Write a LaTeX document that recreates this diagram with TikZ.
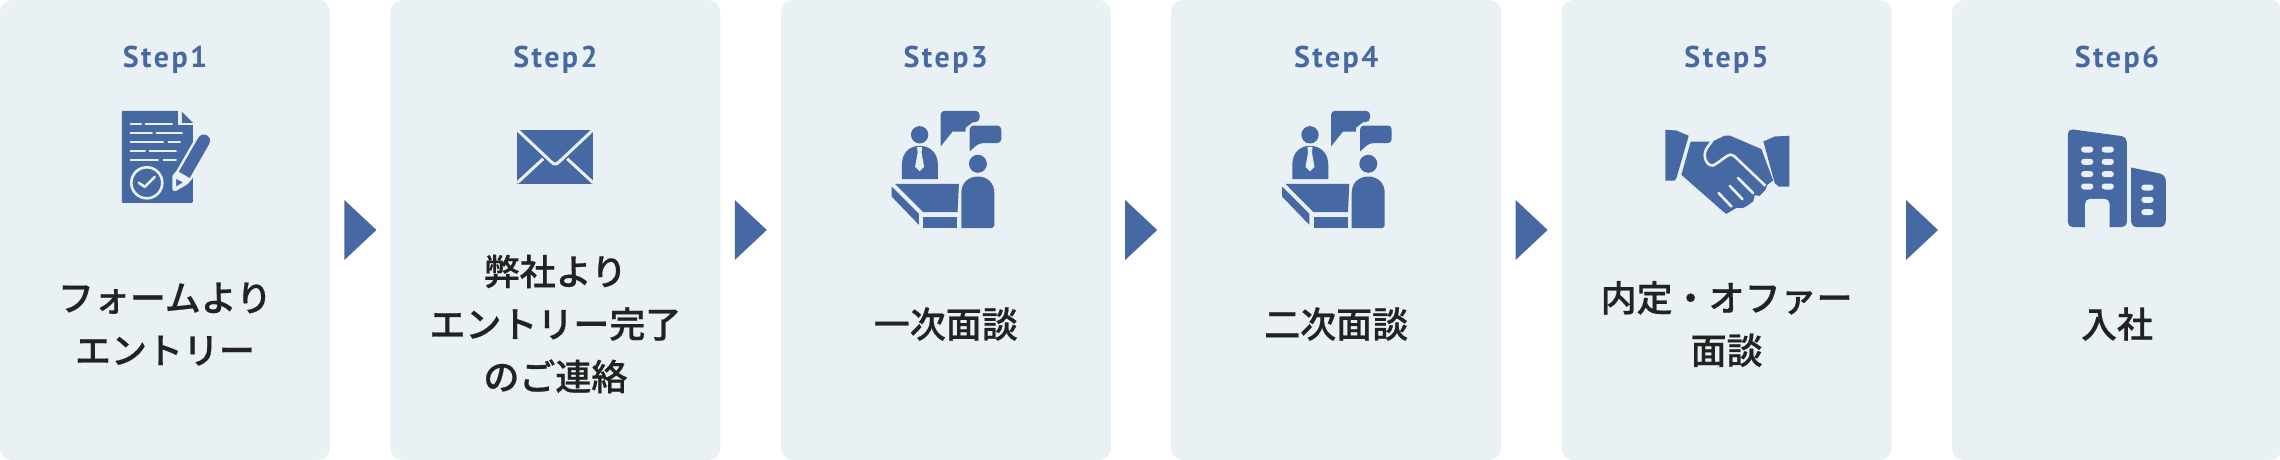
\documentclass[tikz,border=0pt]{standalone}
\usepackage{fontspec}
\usetikzlibrary{positioning,shapes.geometric}
\setmainfont[FakeBold=0.6]{Noto Sans CJK JP Medium}
\newfontfamily\stepfont[LetterSpace=8]{PT Sans}
\definecolor{cardbg}{HTML}{E9F1F4}
\definecolor{stepblue}{HTML}{4669A3}
\definecolor{inkdark}{HTML}{222222}

\begin{document}
\begin{tikzpicture}[x=1pt, y=-1pt]
\tikzset{
   stepcard/.style={rectangle, rounded corners=12pt, fill=cardbg, inner sep=0pt, minimum width=330pt, minimum height=460pt},
   stepname/.style={anchor=base, inner sep=0pt, text=stepblue, font=\stepfont\bfseries\fontsize{30}{34}\selectfont},
   steptext/.style={align=center, inner sep=0pt, text=inkdark, font=\fontsize{36}{52.5}\selectfont},
   steparrow/.style={isosceles triangle, isosceles triangle stretches, fill=stepblue, inner sep=0pt, minimum width=60pt, minimum height=32pt},
   gap/.style={draw=cardbg, line width=2.6pt},
   iconform/.pic={
      \fill[stepblue, rounded corners=1pt] (122,111) -- (193,111) -- (193,203) -- (122,203) -- cycle;
      \fill[cardbg] (178,109) -- (195,109) -- (195,125) -- (178,125) -- cycle;
      \fill[stepblue] (182,112) -- (193,123) -- (182,123) -- cycle;
      \draw[gap, line cap=round] (131,124) -- (141,124) (146,124) -- (172,124);
      \draw[gap, line cap=round] (131,133) -- (152,133) (157,133) -- (182,133);
      \draw[gap, line cap=round] (131,142) -- (163,142) (169,142) -- (180,142);
      \draw[gap, line cap=round] (131,151) -- (145,151) (150,151) -- (176,151);
      \draw[gap, line cap=round] (131,160) -- (158,160) (164,160) -- (176,160);
      \draw[gap] (147,183) circle[radius=15.5];
      \draw[gap, line cap=round, line join=round] (139,183) -- (145,187) -- (155,177);
      \draw[gap, fill=cardbg, line width=5pt, line join=round] (175,189) -- (175,177) -- (179.1,171.9) -- (198.6,137.9) -- (209.4,144.1) -- (189.9,178.1) -- (186,182.5) -- cycle;
      \draw[stepblue, line width=12.5pt] (184.5,175) -- (198,151.5);
      \draw[stepblue, line width=12.5pt, line cap=round] (198,151.5) -- (204,141);
      \draw[gap, fill=stepblue, line join=round] (175,177) -- (175,189) -- (186,182.5) -- cycle;
   },
   iconmail/.pic={
      \fill[stepblue] (127,130) -- (203,130) -- (203,184) -- (127,184) -- cycle;
      \draw[gap, line width=3pt] (126,129) -- (161,162) .. controls (164,165) and (166,165) .. (169,162) -- (204,129);
      \draw[gap, line width=3pt] (153,159) -- (127,183) (177,159) -- (203,183);
   },
   icontalk/.pic={
      \fill[stepblue] (139,135) circle[radius=8.7];
      \fill[stepblue] (121.3,179.3) -- (121.3,165) .. controls (121.3,152) and (130,146) .. (139,146) .. controls (148,146) and (157.3,152) .. (157.3,165) -- (157.3,179.3) -- cycle;
      \fill[cardbg] (136.5,147) -- (141.5,147) -- (141,153) -- (143.5,167) -- (139,171.5) -- (134.5,167) -- (137,153) -- cycle;
      \fill[stepblue] (114.3,184) -- (178.3,184) -- (177,212.3) -- (142.5,212.3) -- cycle;
      \fill[stepblue] (142.7,216.7) -- (176.7,216.7) -- (176.7,228.3) -- (142.7,228.3) -- cycle;
      \fill[stepblue] (111,186.7) -- (138.3,214) -- (138.3,225) -- (111,196.7) -- cycle;
      \fill[stepblue] (197.3,164) circle[radius=9];
      \fill[stepblue] (180.7,228.3) -- (180.7,193) .. controls (180.7,183) and (188,176.7) .. (197.2,176.7) .. controls (206.5,176.7) and (213.7,183) .. (213.7,193) -- (213.7,226) -- (211.5,228.3) -- cycle;
      \fill[stepblue, rounded corners=4pt] (160,146.7) -- (160,111) -- (199,111) -- (199,122) [sharp corners] -- (192,122.5) -- (185,128) -- (185,131.7) -- (172,131.7) -- cycle;
      \fill[stepblue, rounded corners=4pt] (189,151.7) -- (189,125.7) -- (220.7,125.7) -- (220.7,143.3) -- (198.3,143.3) [sharp corners] -- cycle;
   },
   iconhands/.pic={
      \fill[stepblue] (104,130) -- (115,130.7) -- (127.3,136) -- (115,178.3) -- (113.3,180.7) -- (104,180.7) -- cycle;
      \fill[stepblue] (228,136) -- (213.3,136.7) -- (202,141.7) -- (213.3,183.3) -- (217.3,186.7) -- (228,186.7) -- cycle;
      \fill[stepblue] (129.3,141.7) -- (151,141.7) -- (163,136) -- (168.3,135.7) -- (200,149.3) -- (211.7,180.7) -- (206,185) -- (204,190) -- (198.3,196) -- (193.3,195.5) -- (191.7,201.7) -- (185,206.5) -- (181,208.3) -- (175,208) -- (171,210.5) -- (165,214) -- (161.7,211.7) -- (120,175) -- cycle;
      \draw[gap, line cap=round] (157.3,193.3) -- (170,206.7) (168.3,186) -- (181,199.3) (176.7,178.3) -- (191.7,193.3);
      \draw[gap] (151,141) .. controls (147,146) and (143.3,150) .. (143.3,155) .. controls (143,161) and (147,166) .. (151,165.7) .. controls (155,165) and (163,157) .. (168.3,155) .. controls (170,155) and (172,155.5) .. (173.3,156.7) -- (204,186);
   },
   iconoffice/.pic={
      \fill[stepblue, rounded corners=5pt] (116,227.3) -- (116,129) -- (175,137) -- (175,227.3) -- cycle;
      \fill[cardbg, rounded corners=5pt] (133.3,232) -- (133.3,199) -- (157.7,199) -- (157.7,232) -- cycle;
      \fill[stepblue, rounded corners=5pt] (179.3,227.3) [sharp corners] -- (179.3,167.7) [rounded corners=6pt] -- (214,175) -- (214,227.3) -- cycle;
      \fill[cardbg, rounded corners=3pt] (129.2,146.7) rectangle (141.5,152.7) (149.8,146.7) rectangle (162.1,152.7);
      \fill[cardbg, rounded corners=3pt] (129.2,159) rectangle (141.5,165) (149.8,159) rectangle (162.1,165);
      \fill[cardbg, rounded corners=3pt] (129.2,171.3) rectangle (141.5,177.3) (149.8,171.3) rectangle (162.1,177.3);
      \fill[cardbg, rounded corners=3pt] (129.2,183.7) rectangle (141.5,189.7) (149.8,183.7) rectangle (162.1,189.7);
      \fill[cardbg, rounded corners=3pt] (189.5,184.7) rectangle (201.8,190.7) (189.5,197) rectangle (201.8,203) (189.5,209.3) rectangle (201.8,215.3);
   },
}
\useasboundingbox (0,0) rectangle (2280,460);

\node[stepcard] (card1) at (165,230) {};
\node[stepcard, right=60pt of card1] (card2) {};
\node[stepcard, right=60pt of card2] (card3) {};
\node[stepcard, right=60pt of card3] (card4) {};
\node[stepcard, right=60pt of card4] (card5) {};
\node[stepcard, right=60pt of card5] (card6) {};

\node[steparrow, right=14pt of card1] (arrow1) {};
\node[steparrow, right=14pt of card2] (arrow2) {};
\node[steparrow, right=14pt of card3] (arrow3) {};
\node[steparrow, right=14pt of card4] (arrow4) {};
\node[steparrow, right=14pt of card5] (arrow5) {};

\node[stepname] (name1) at ([yshift=-68pt]card1.north) {Step1};
\node[stepname] (name2) at ([yshift=-68pt]card2.north) {Step2};
\node[stepname] (name3) at ([yshift=-68pt]card3.north) {Step3};
\node[stepname] (name4) at ([yshift=-68pt]card4.north) {Step4};
\node[stepname] (name5) at ([yshift=-68pt]card5.north) {Step5};
\node[stepname] (name6) at ([yshift=-68pt]card6.north) {Step6};

\pic at (card1.north west) {iconform};
\pic at (card2.north west) {iconmail};
\pic at (card3.north west) {icontalk};
\pic at (card4.north west) {icontalk};
\pic at (card5.north west) {iconhands};
\pic at (card6.north west) {iconoffice};

\node[steptext] (text1) at ([yshift=-94pt]card1.center) {フォームより\\エントリー};
\node[steptext] (text2) at ([yshift=-94pt]card2.center) {弊社より\\エントリー完了\\のご連絡};
\node[steptext] (text3) at ([yshift=-94pt]card3.center) {一次面談};
\node[steptext] (text4) at ([yshift=-94pt]card4.center) {二次面談};
\node[steptext] (text5) at ([yshift=-94pt]card5.center) {内定・オファー\\面談};
\node[steptext] (text6) at ([yshift=-94pt]card6.center) {入社};

\end{tikzpicture}
\end{document}
